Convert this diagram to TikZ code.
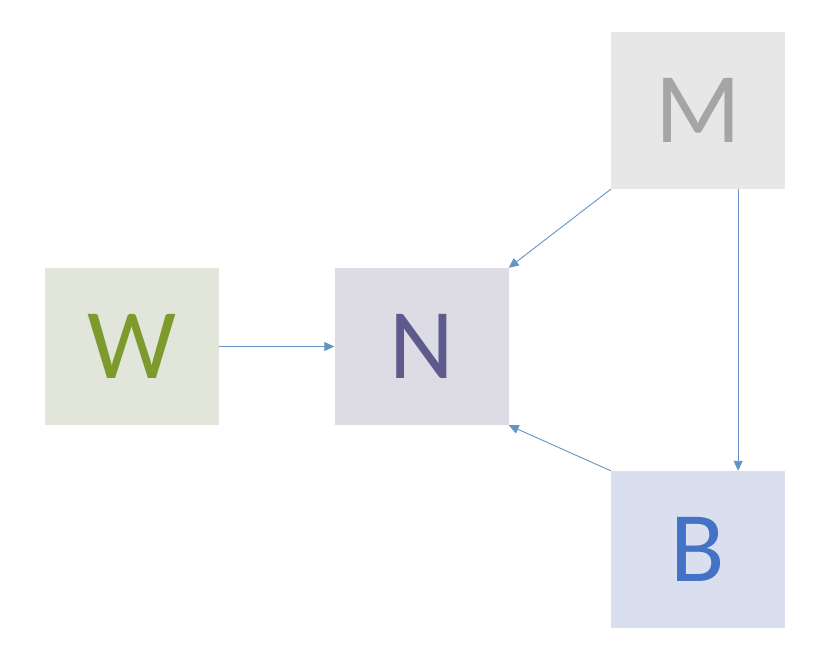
\documentclass[tikz,border=0pt]{standalone}
\usepackage{fontspec}
\setmainfont{Carlito}
\usetikzlibrary{arrows.meta}
\definecolor{mfill}{HTML}{E7E7E7}
\definecolor{mtext}{HTML}{A5A5A5}
\definecolor{wfill}{HTML}{E2E6DA}
\definecolor{wtext}{HTML}{7D9A2C}
\definecolor{nfill}{HTML}{DDDCE4}
\definecolor{ntext}{HTML}{5E5A8B}
\definecolor{bfill}{HTML}{D9DFEE}
\definecolor{btext}{HTML}{4472C4}
\definecolor{linkcol}{HTML}{6593C6}
\begin{document}
\begin{tikzpicture}[
		x=1pt, y=1pt,
		box/.style={minimum width=174pt, minimum height=157pt, inner sep=0pt,
			font=\fontsize{100}{100}\selectfont},
		boxM/.style={box, fill=mfill, text=mtext},
		boxW/.style={box, fill=wfill, text=wtext},
		boxN/.style={box, fill=nfill, text=ntext},
		boxB/.style={box, fill=bfill, text=btext},
		link/.style={linkcol, line width=0.9pt, -{Triangle[length=10pt, width=9pt]}}
		]
	
	\useasboundingbox (0, 0) rectangle (834, -657);
	
	% Boxes
	\node[boxM] (M) at (698, -110.5) {M};
	\node[boxW] (W) at (131.5, -346.5) {W};
	\node[boxN] (N) at (421.5, -346.5) {N};
	\node[boxB] (B) at (698, -549.5) {B};
	
	% Links
	\draw[link] (W.east) -- (N.west);
	\draw[link] (M.south west) -- (N.north east);
	\draw[link] (M.-63) -- (B.63);
	\draw[link] (B.north west) -- (N.south east);
	
\end{tikzpicture}
\end{document}
